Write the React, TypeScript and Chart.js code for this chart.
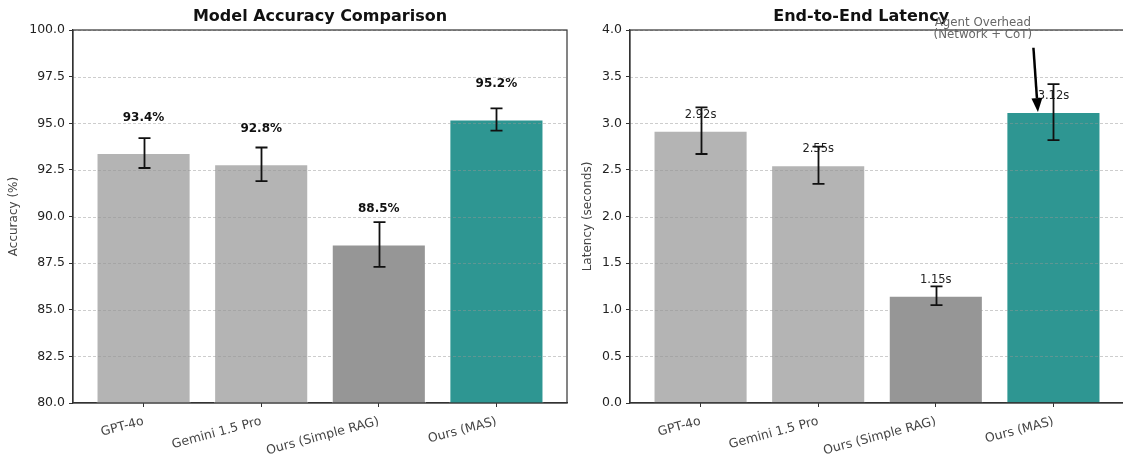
import React, { useEffect, useRef } from 'react';
import { Chart, registerables } from 'chart.js';
Chart.register(...registerables);

// ---------- data ----------
const categories = ['GPT-4o', 'Gemini 1.5 Pro', 'Ours (Simple RAG)', 'Ours (MAS)'];
const accuracy = [93.4, 92.8, 88.5, 95.2];
const accuracyErr = [0.8, 0.9, 1.2, 0.6];
const accuracyLabels = ['93.4%', '92.8%', '88.5%', '95.2%'];
const latency = [2.92, 2.55, 1.15, 3.12];
const latencyErr = [0.25, 0.2, 0.1, 0.3];
const latencyLabels = ['2.92s', '2.55s', '1.15s', '3.12s'];
const barColors = ['#b4b4b4', '#b4b4b4', '#969696', '#2e9692'];
const annotationLines = ['Agent Overhead', '(Network + CoT)'];
const annotationText = [2.4, 4.08, 3.947];
const annotationTail = [2.83, 3.81];
const annotationHead = [2.868, 3.12];

const FONT = "'DejaVu Sans', 'Liberation Sans', sans-serif";

type PanelCfg = {
  title: string;
  titleFrac: number;
  values: number[];
  errors: number[];
  labels: string[];
  labelOffset: number;
  labelFont: string;
  labelColor: string;
  annotate?: boolean;
};

function overlay(cfg: PanelCfg) {
  return {
    id: 'overlay',
    afterDatasetsDraw(chart: any) {
      const { ctx, chartArea: a, scales } = chart;
      const xs = scales.x;
      const ys = scales.y;
      ctx.save();
      // grid (drawn above bars, dashed)
      ctx.save();
      ctx.beginPath();
      ctx.rect(a.left, a.top, a.right - a.left, a.bottom - a.top);
      ctx.clip();
      ctx.setLineDash([3, 2]);
      ctx.strokeStyle = 'rgba(150,150,150,0.6)';
      ctx.lineWidth = 0.8;
      ys.ticks.forEach((t: any) => {
        const py = Math.round(ys.getPixelForValue(t.value)) + 0.5;
        ctx.beginPath();
        ctx.moveTo(a.left, py);
        ctx.lineTo(a.right, py);
        ctx.stroke();
      });
      ctx.restore();

      // value labels
      ctx.font = cfg.labelFont;
      ctx.fillStyle = cfg.labelColor;
      ctx.textAlign = 'center';
      ctx.textBaseline = 'middle';
      cfg.values.forEach((v, i) => {
        ctx.fillText(cfg.labels[i], xs.getPixelForValue(i), ys.getPixelForValue(v + cfg.labelOffset));
      });

      // error bars
      ctx.strokeStyle = '#111';
      ctx.lineWidth = 1.8;
      ctx.setLineDash([]);
      cfg.values.forEach((v, i) => {
        const px = Math.round(xs.getPixelForValue(i)) + 0.5;
        const y1 = ys.getPixelForValue(v - cfg.errors[i]);
        const y2 = ys.getPixelForValue(v + cfg.errors[i]);
        ctx.beginPath();
        ctx.moveTo(px, y1);
        ctx.lineTo(px, y2);
        ctx.moveTo(px - 6, y1);
        ctx.lineTo(px + 6, y1);
        ctx.moveTo(px - 6, y2);
        ctx.lineTo(px + 6, y2);
        ctx.stroke();
      });

      // spines
      ctx.strokeStyle = '#333';
      ctx.lineWidth = 1.2;
      ctx.strokeRect(a.left, a.top, a.right - a.left, a.bottom - a.top);

      // title
      ctx.font = `bold 16px ${FONT}`;
      ctx.fillStyle = '#111';
      ctx.textAlign = 'center';
      ctx.textBaseline = 'middle';
      ctx.fillText(cfg.title, a.left + (a.right - a.left) * cfg.titleFrac, a.top - 13);

      // annotation
      if (cfg.annotate) {
        ctx.font = `11.8px ${FONT}`;
        ctx.fillStyle = '#666';
        const tx = xs.getPixelForValue(annotationText[0]);
        ctx.fillText(annotationLines[0], tx, ys.getPixelForValue(annotationText[1]));
        ctx.fillText(annotationLines[1], tx, ys.getPixelForValue(annotationText[2]));
        const x0 = xs.getPixelForValue(annotationTail[0]);
        const y0 = ys.getPixelForValue(annotationTail[1]);
        const x1 = xs.getPixelForValue(annotationHead[0]);
        const y1 = ys.getPixelForValue(annotationHead[1]);
        const ang = Math.atan2(y1 - y0, x1 - x0);
        const hl = 14;
        const hw = 5.5;
        const bx = x1 - hl * Math.cos(ang);
        const by = y1 - hl * Math.sin(ang);
        ctx.strokeStyle = '#000';
        ctx.lineWidth = 2.5;
        ctx.beginPath();
        ctx.moveTo(x0, y0);
        ctx.lineTo(bx, by);
        ctx.stroke();
        ctx.fillStyle = '#000';
        ctx.beginPath();
        ctx.moveTo(x1, y1);
        ctx.lineTo(bx + hw * Math.sin(ang), by - hw * Math.cos(ang));
        ctx.lineTo(bx - hw * Math.sin(ang), by + hw * Math.cos(ang));
        ctx.closePath();
        ctx.fill();
      }
      ctx.restore();
    },
  };
}

function makeConfig(
  values: number[],
  yMin: number,
  yMax: number,
  step: number,
  yTitle: string,
  yWidth: number,
  padRight: number,
  titlePadTop: number,
  cfg: PanelCfg
): any {
  const tickGrid = { drawOnChartArea: false, drawTicks: true, tickLength: 4, color: '#333', lineWidth: 1, offset: false };
  return {
    type: 'bar',
    data: {
      datasets: [
        {
          data: values.map((v, i) => ({ x: i, y: v })),
          backgroundColor: barColors,
          borderColor: 'rgba(255,255,255,0.9)',
          borderWidth: 1,
          barPercentage: 1,
          categoryPercentage: 0.8,
        },
      ],
    },
    options: {
      responsive: false,
      animation: false,
      events: [],
      layout: { padding: { top: 30, left: 0, right: padRight, bottom: 0 } },
      plugins: { legend: { display: false }, tooltip: { enabled: false }, title: { display: false } },
      scales: {
        x: {
          type: 'linear',
          min: -0.6,
          max: 3.6,
          offset: false,
          afterBuildTicks: (s: any) => {
            s.ticks = categories.map((_, i) => ({ value: i }));
          },
          afterFit: (s: any) => {
            s.height = 51;
          },
          ticks: {
            autoSkip: false,
            minRotation: 15,
            maxRotation: 15,
            padding: 7,
            color: '#444',
            font: { family: FONT, size: 12.5 },
            callback: (v: any) => categories[Math.round(v)] ?? '',
          },
          grid: tickGrid,
          border: { display: true, color: '#333', width: 1.2 },
        },
        y: {
          min: yMin,
          max: yMax,
          afterFit: (s: any) => {
            s.width = yWidth;
          },
          ticks: {
            stepSize: step,
            padding: 4,
            color: '#222',
            font: { family: FONT, size: 12.5 },
            callback: (v: any) => Number(v).toFixed(1),
          },
          title: {
            display: true,
            text: yTitle,
            color: '#444',
            font: { family: FONT, size: 12 },
            padding: { top: titlePadTop, bottom: 0 },
          },
          grid: tickGrid,
          border: { display: true, color: '#333', width: 1.2 },
        },
      },
    },
    plugins: [overlay(cfg)],
  };
}

function Panel(props: { left: number; width: number; build: () => any }) {
  const ref = useRef<HTMLCanvasElement | null>(null);
  useEffect(() => {
    if (!ref.current) return;
    const chart = new Chart(ref.current, props.build());
    return () => chart.destroy();
  }, []);
  return (
    <canvas
      ref={ref}
      width={props.width}
      height={454}
      style={{ position: 'absolute', left: props.left, top: 0, width: props.width, height: 454, display: 'block' }}
    />
  );
}

export default function App() {
  return (
    <div
      style={{
        position: 'fixed',
        left: 0,
        top: 0,
        width: 1123,
        height: 454,
        overflow: 'hidden',
        background: '#fff',
      }}
    >
      <Panel
        left={0}
        width={580}
        build={() =>
          makeConfig(accuracy, 80, 100, 2.5, 'Accuracy (%)', 73, 13, 7, {
            title: 'Model Accuracy Comparison',
            titleFrac: 0.5,
            values: accuracy,
            errors: accuracyErr,
            labels: accuracyLabels,
            labelOffset: 1.9,
            labelFont: `bold 12px ${FONT}`,
            labelColor: '#111',
          })
        }
      />
      <Panel
        left={580}
        width={560}
        build={() =>
          makeConfig(latency, 0, 4, 0.5, 'Latency (seconds)', 50, 16, 1, {
            title: 'End-to-End Latency',
            titleFrac: 0.468,
            values: latency,
            errors: latencyErr,
            labels: latencyLabels,
            labelOffset: 0.17,
            labelFont: `11.5px ${FONT}`,
            labelColor: '#222',
            annotate: true,
          })
        }
      />
    </div>
  );
}
